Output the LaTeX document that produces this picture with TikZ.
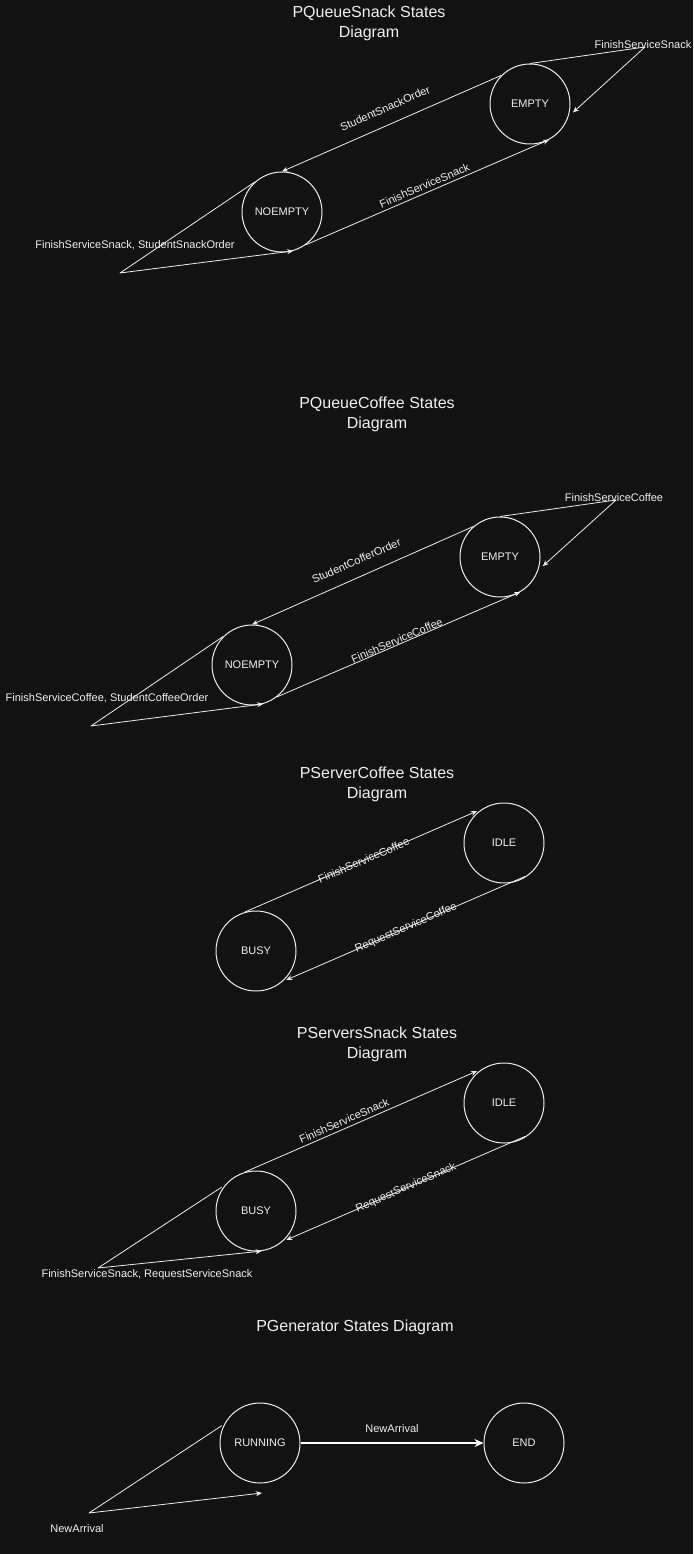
\documentclass[tikz,border=0pt]{standalone}
\usepackage{fontspec}
\setmainfont{Liberation Sans}
\usepackage{tikz}
\usetikzlibrary{arrows.meta,positioning,calc}
\usepackage{xcolor}
\definecolor{DarkBg}{HTML}{121212}
\definecolor{LineWhite}{HTML}{EDEDED}
\definecolor{TextWhite}{HTML}{F0F0F0}
\tikzset{
    % State circle style
    statenode/.style={
        circle,
        draw=LineWhite,
        line width=1pt,
        minimum size=80pt,
        inner sep=0pt,
        text=TextWhite,
        font=\fontsize{11}{13}\selectfont
    },
    % Diagram title style
    titlenode/.style={
        text=TextWhite,
        align=center,
        font=\fontsize{16}{20}\selectfont
    },
    % Edge label style
    edgelabel/.style={
        text=TextWhite,
        inner sep=1pt,
        font=\fontsize{11}{13}\selectfont
    },
    % Self loop label style
    looplabel/.style={
        edgelabel
    },
    % Arrow styles (straight lines only)
    myarrow/.style={
        -{Stealth[length=6pt,width=5pt]},
        line width=0.8pt,
        line join=round,
        draw=LineWhite
    },
    % Strong arrow
    bigarrow/.style={
        -{Stealth[length=9pt,width=8pt]},
        line width=1.5pt,
        draw=white
    }
}
\begin{document}
\begin{tikzpicture}[x=1pt, y=-1pt]
    \useasboundingbox[fill=DarkBg] (0,0) rectangle (693,1554);

    % PQueueSnack
    \node[titlenode] (t1) at (369,23) {PQueueSnack States\\Diagram};
    \node[statenode] (qse) at (530,104) {EMPTY};
    \node[statenode] (qsn) at (282,212) {NOEMPTY};
    \coordinate (qsec) at (645,47);
    \coordinate (qsnc) at (120,273);
    \draw[myarrow] (qse.135) -- node[edgelabel, sloped, above=11pt] {StudentSnackOrder} (qsn.north);
    \draw[myarrow] (qsn.-54) -- node[edgelabel, sloped, above=2pt] {FinishServiceSnack} (qse.-62);
    \draw[myarrow, shorten >=6pt] (qse.north) -- (qsec) -- (qse.-18);
    \draw[myarrow] (qsn.132) -- (qsnc) -- (qsn.-74);
    \node[looplabel] (l1) at (643,45) {FinishServiceSnack};
    \node[looplabel] (l2) at (135,245) {FinishServiceSnack, StudentSnackOrder};

    % PQueueCoffee
    \node[titlenode] (t2) at (377,414) {PQueueCoffee States\\Diagram};
    \node[statenode] (qce) at (500,557) {EMPTY};
    \node[statenode] (qcn) at (252,665) {NOEMPTY};
    \coordinate (qcec) at (616,500);
    \coordinate (qcnc) at (91,726);
    \draw[myarrow] (qce.131) -- node[edgelabel, sloped, above=10.5pt] {StudentCofferOrder} (qcn.north);
    \draw[myarrow] (qcn.-52) -- node[edgelabel, sloped, above=-1pt] {FinishServiceCoffee} (qce.-60);
    \draw[myarrow, shorten >=6pt] (qce.north) -- (qcec) -- (qce.-19);
    \draw[myarrow] (qcn.135) -- (qcnc) -- (qcn.-74);
    \node[looplabel] (l3) at (614,498) {FinishServiceCoffee};
    \node[looplabel] (l4) at (107,698) {FinishServiceCoffee, StudentCoffeeOrder};

    % PServerCoffee
    \node[titlenode] (t3) at (377,784) {PServerCoffee States\\Diagram};
    \node[statenode] (sci) at (504,843) {IDLE};
    \node[statenode] (scb) at (256,951) {BUSY};
    \draw[myarrow, shorten >=6pt] (scb.106) -- node[edgelabel, sloped] {FinishServiceCoffee} (sci.122);
    \draw[myarrow, shorten <=5pt, shorten >=4pt] (sci.-51) -- node[edgelabel, sloped] {RequestServiceCoffee} (scb.-49);

    % PServersSnack
    \node[titlenode] (t4) at (377,1044) {PServersSnack States\\Diagram};
    \node[statenode] (ssi) at (504,1103) {IDLE};
    \node[statenode] (ssb) at (256,1211) {BUSY};
    \coordinate (ssbc) at (98,1268);
    \draw[myarrow, shorten >=6pt] (ssb.106) -- node[edgelabel, sloped, above=2pt, pos=0.43] {FinishServiceSnack} (ssi.122);
    \draw[myarrow, shorten <=5pt, shorten >=4pt] (ssi.-51) -- node[edgelabel, sloped] {RequestServiceSnack} (ssb.-49);
    \draw[myarrow, shorten <=4pt] (ssb.140) -- (ssbc) -- (ssb.-82);
    \node[looplabel] (l5) at (147,1275) {FinishServiceSnack, RequestServiceSnack};

    % PGenerator
    \node[titlenode] (t5) at (355,1327) {PGenerator States Diagram};
    \node[statenode] (gr) at (260,1443) {RUNNING};
    \node[statenode] (ge) at (524,1443) {END};
    \coordinate (grc) at (89,1513);
    \coordinate (gre) at (262,1493);
    \draw[bigarrow] (gr.east) -- node[edgelabel, above=9pt] {NewArrival} (ge.west);
    \draw[myarrow, shorten <=3pt] (gr.152) -- (grc) -- (gre);
    \node[looplabel] (l6) at (77,1529) {NewArrival};
\end{tikzpicture}
\end{document}
